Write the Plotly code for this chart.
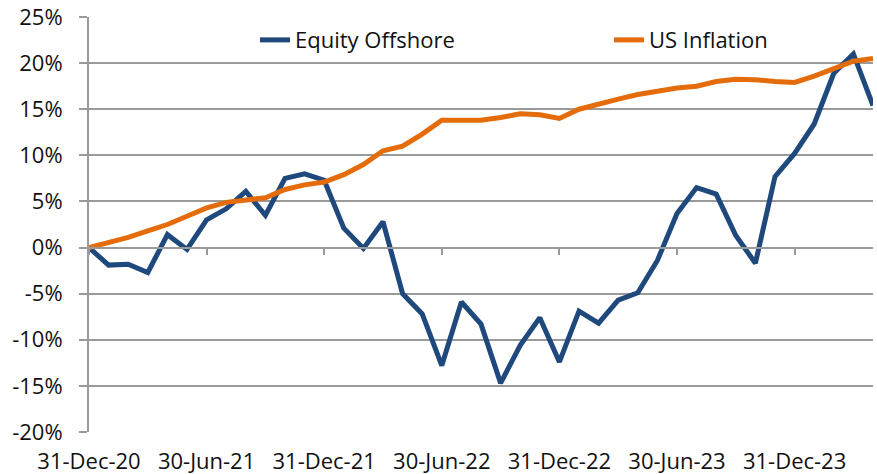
import plotly.graph_objects as go
import pandas as pd

# Month-end observation labels (Dec 2020 .. Apr 2024)
months = [d.strftime("%d-%b-%y") for d in pd.date_range("2020-12-31", periods=41, freq="ME")]

equity_offshore = [
    0.0, -1.9, -1.8, -2.7, 1.4, -0.2, 3.0, 4.2, 6.1, 3.5,
    7.5, 8.0, 7.3, 2.1, -0.1, 2.8, -5.0, -7.2, -12.8, -5.9,
    -8.3, -14.7, -10.6, -7.6, -12.4, -6.9, -8.2, -5.7, -4.9, -1.4,
    3.7, 6.5, 5.8, 1.3, -1.7, 7.7, 10.2, 13.4, 18.9, 21.0,
    15.4,
]
us_inflation = [
    0.0, 0.5, 1.1, 1.8, 2.5, 3.4, 4.3, 4.9, 5.1, 5.4,
    6.3, 6.8, 7.1, 7.9, 9.0, 10.5, 11.0, 12.3, 13.8, 13.8,
    13.8, 14.1, 14.5, 14.4, 14.0, 15.0, 15.6, 16.1, 16.6, 16.95,
    17.3, 17.5, 18.0, 18.25, 18.2, 18.0, 17.9, 18.6, 19.4, 20.2,
    20.5,
]
x_tick_labels = ["31-Dec-20", "30-Jun-21", "31-Dec-21", "30-Jun-22",
                 "31-Dec-22", "30-Jun-23", "31-Dec-23"]
y_tick_values = [-20, -15, -10, -5, 0, 5, 10, 15, 20, 25]
y_tick_labels = [f"{v}%" for v in y_tick_values]

BLUE = "#1F497D"
ORANGE = "#E46C0A"
GRID = "#9A9A9A"
FONT = "Open Sans"

fig = go.Figure()
fig.add_trace(go.Scatter(x=months, y=equity_offshore, mode="lines", name="Equity Offshore",
                         line=dict(color=BLUE, width=5), legendwidth=309))
fig.add_trace(go.Scatter(x=months, y=us_inflation, mode="lines", name="US Inflation",
                         line=dict(color=ORANGE, width=5), legendwidth=130))
# invisible trace on the secondary x axis (category axis crossing at 0%)
fig.add_trace(go.Scatter(x=months, y=[None] * len(months), xaxis="x2", showlegend=False,
                         hoverinfo="skip"))

fig.update_layout(
    width=877, height=474,
    margin=dict(l=89, r=4, t=17, b=42, autoexpand=False),
    paper_bgcolor="white", plot_bgcolor="white",
    font=dict(family=FONT, size=22, color="#111111"),
    xaxis=dict(type="category", categoryorder="array", categoryarray=months,
               range=[0, len(months) - 1], tickmode="array", tickvals=x_tick_labels,
               ticktext=x_tick_labels, showgrid=False, showline=False, ticks="",
               zeroline=False, tickfont=dict(size=22), automargin=False,
               ticklabelstandoff=14),
    xaxis2=dict(type="category", categoryorder="array", categoryarray=months,
                range=[0, len(months) - 1], overlaying="x", anchor="free",
                position=(0 - (-20)) / 45, showline=True, linecolor=GRID, linewidth=1.5,
                tickmode="array", tickvals=x_tick_labels, ticks="outside", ticklen=7,
                tickcolor=GRID, tickwidth=1.5, showticklabels=False, showgrid=False,
                zeroline=False, automargin=False),
    yaxis=dict(range=[-20, 25], tickmode="array", tickvals=y_tick_values,
               ticktext=y_tick_labels, showgrid=True, gridcolor=GRID, gridwidth=1.5,
               zeroline=False, showline=True, linecolor=GRID, linewidth=2,
               ticks="outside", ticklen=8, tickcolor=GRID, tickwidth=1.5,
               tickfont=dict(size=22), ticklabelstandoff=12, automargin=False),
    legend=dict(orientation="h", x=0.2117, y=0.995, xanchor="left", yanchor="top",
                bgcolor="rgba(0,0,0,0)", font=dict(size=22), entrywidthmode="pixels"),
    showlegend=True,
)

fig.write_html(
    "out.html",
    config={"displayModeBar": False},
    post_script="document.body.style.margin='0';document.body.style.overflow='hidden';",
)
